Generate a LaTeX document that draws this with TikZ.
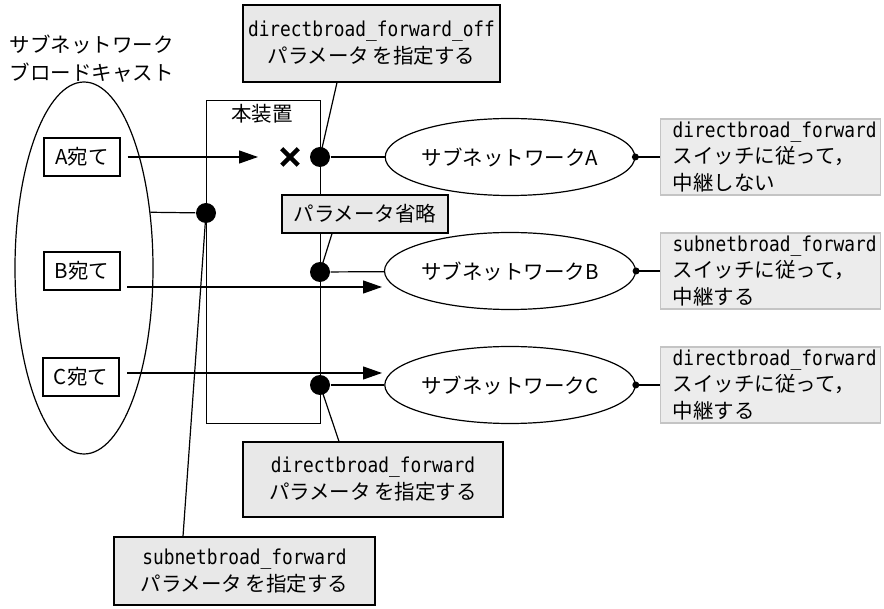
\documentclass[tikz,border=0pt]{standalone}
\usepackage{fontspec}
\setmainfont{Noto Sans CJK JP}
\newfontfamily\idfont[FakeStretch=0.87]{DejaVu Sans Mono}
\usetikzlibrary{arrows.meta,positioning,shapes.geometric,shapes.misc}
\definecolor{CalloutGray}{HTML}{E8E8E8}
\definecolor{NoteGray}{HTML}{ECECEC}
\definecolor{NoteEdge}{HTML}{C4C4C4}
\newcommand{\idt}[1]{{\idfont\fontsize{20.5pt}{27pt}\selectfont #1}}

\begin{document}
\begin{tikzpicture}[x=1pt, y=-1pt, line width=1.2pt, >={Triangle[length=19pt,width=13pt]},
  font=\fontsize{20.5pt}{27pt}\selectfont,
  dst/.style={draw, minimum width=76pt, minimum height=38pt, inner sep=0pt},
  dot/.style={circle, fill, inner sep=0pt, minimum size=20pt},
  subnet/.style={ellipse, draw, minimum width=230pt, minimum height=77pt, inner sep=0pt},
  note/.style={draw=NoteEdge, fill=NoteGray, anchor=west, align=left, text width=196pt, inner xsep=12pt, inner ysep=0pt, minimum height=76pt, font=\fontsize{20.5pt}{26.5pt}\selectfont},
  callout/.style={draw, fill=CalloutGray, align=center, inner sep=0pt}]
\useasboundingbox (0,0) rectangle (884,609);
% broadcast side
\node[align=left, anchor=west, font=\fontsize{20.5pt}{28pt}\selectfont] (title) at (6,59) {サブネットワーク\\ブロードキャスト};
\node[ellipse, draw, minimum width=138pt, minimum height=372pt] (bcast) at (84,268) {};
\node[dst] (dA) at (82,157) {A宛て};
\node[dst] (dB) at (82,271) {B宛て};
\node[dst] (dC) at (81,377) {C宛て};
% device
\node[draw, anchor=north west, minimum width=114pt, minimum height=323pt, inner sep=0pt] (dev) at (206,100) {};
\node (devlabel) at (262,114) {本装置};
\node[dot] (pA) at (320,157) {};
\node[dot] (pB) at (320,272) {};
\node[dot] (pC) at (320,385) {};
\node[dot] (pL) at (206,213) {};
\node[cross out, draw, line width=4.5pt, minimum size=12pt, inner sep=0pt] (blk) at (290,157) {};
% subnets
\node[subnet] (sA) at (510,157) {サブネットワークA};
\node[subnet] (sB) at (510,271) {サブネットワークB};
\node[subnet] (sC) at (510,385) {サブネットワークC};
\node[note] (nA) at (660,157) {\idt{directbroad\_forward}\\スイッチに従って，\\中継しない};
\node[note] (nB) at (660,271) {\idt{subnetbroad\_forward}\\スイッチに従って，\\中継する};
\node[note] (nC) at (660,385) {\idt{directbroad\_forward}\\スイッチに従って，\\中継する};
% packets
\coordinate (inA) at ([xshift=7pt]dA.east);
\coordinate (tipA) at (258,157);
\coordinate (inB) at (127,287);
\coordinate (tipB) at (382,287);
\coordinate (inC) at (127,373);
\coordinate (tipC) at (382,373);
\draw[->] (inA) -- (tipA);
\draw[->] (inB) -- (tipB);
\draw[->] (inC) -- (tipC);
\draw (bcast.40) -- (pL);
\draw (pA) -- (sA);
\draw (pB) -- (sB);
\draw (pC) -- (sC);
\foreach \s/\n in {sA/nA,sB/nB,sC/nC}{
  \draw (\s.east) -- (\n.west);
  \fill (\s.east) circle (3.5pt);
}
% parameter callouts
\node[callout, minimum width=257pt, minimum height=77pt] (cOff) at (371.5,43.5) {\idt{directbroad\_forward\_off}\\パラメータ\,を指定する};
\node[callout, minimum width=166pt, minimum height=38pt] (cOmit) at (365,214) {パラメータ省略};
\node[callout, minimum width=260pt, minimum height=75pt] (cDir) at (373,479.5) {\idt{directbroad\_forward}\\パラメータ\,を指定する};
\node[callout, minimum width=261pt, minimum height=68pt] (cSub) at (244.5,571) {\idt{subnetbroad\_forward}\\パラメータ\,を指定する};
\draw ([xshift=-34.5pt]cOff.south) -- (pA.center);
\draw ([xshift=-33pt]cOmit.south) -- (pB.center);
\draw ([xshift=-34pt]cDir.north) -- (pC.center);
\draw ([xshift=-61.5pt]cSub.north) -- (pL.center);
\end{tikzpicture}
\end{document}
